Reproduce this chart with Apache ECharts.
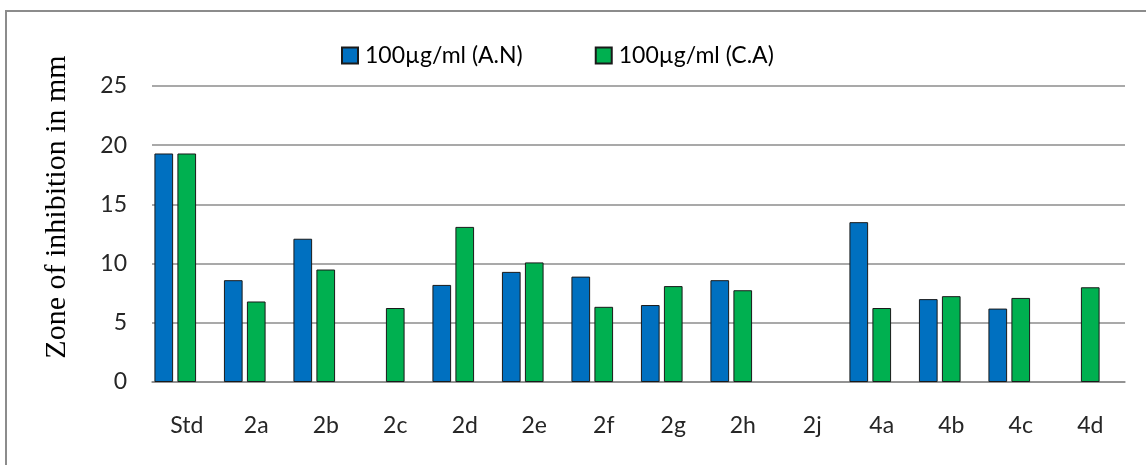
<!DOCTYPE html>
<html>
<head>
<meta charset="utf-8">
<script src="https://cdn.jsdelivr.net/npm/echarts@6/dist/echarts.min.js"></script>
<style>
html,body{margin:0;padding:0;background:#fff;}
#chart{width:1146px;height:465px;}
</style>
</head>
<body>
<div id="chart"></div>
<script>
var categories = ['Std','2a','2b','2c','2d','2e','2f','2g','2h','2j','4a','4b','4c','4d'];
var seriesNames = ['100µg/ml (A.N)', '100µg/ml (C.A)'];
var valuesAN = [19.3, 8.6, 12.1, null, 8.2, 9.3, 8.9, 6.5, 8.6, null, 13.5, 7.0, 6.2, null];
var valuesCA = [19.3, 6.8, 9.5, 6.25, 13.1, 10.1, 6.35, 8.1, 7.75, null, 6.25, 7.25, 7.1, 8.0];
var emptySeries = [null, null, null, null, null, null, null, null, null, null, null, null, null, null];
var yTicks = { min: 0, max: 25, interval: 5 };
var yTitle = 'Zone of inhibition in mm';

var chart = echarts.init(document.getElementById('chart'), null, {renderer: 'canvas'});
var sansFont = 'Lato';
var option = {
  backgroundColor: '#ffffff',
  animation: false,
  graphic: [
    {
      type: 'rect',
      shape: {x: 6, y: 11, width: 1160, height: 480},
      style: {fill: 'none', stroke: '#8c8c8c', lineWidth: 2},
      silent: true
    },
    {
      type: 'text',
      x: 57, y: 207,
      rotation: Math.PI / 2,
      style: {
        text: yTitle,
        font: '30px "Liberation Serif"',
        fill: '#000000',
        align: 'center',
        verticalAlign: 'middle'
      }
    }
  ],
  legend: {
    data: seriesNames,
    left: 341,
    top: 44,
    padding: 0,
    itemWidth: 16,
    itemHeight: 16,
    itemGap: 72,
    icon: 'rect',
    textStyle: {fontFamily: sansFont, fontSize: 23, color: '#000000', padding: [0,0,0,2]}
  },
  grid: {left: 152, right: 21, top: 86, bottom: 83, containLabel: false},
  xAxis: {
    type: 'category',
    data: categories,
    axisLine: {show: true, lineStyle: {color: '#8c8c8c', width: 1.5}},
    axisTick: {show: false},
    axisLabel: {fontFamily: sansFont, fontSize: 23, color: '#262626', margin: 32}
  },
  yAxis: {
    type: 'value',
    min: yTicks.min,
    max: yTicks.max,
    interval: yTicks.interval,
    axisLine: {show: false},
    axisTick: {show: false},
    splitLine: {show: true, lineStyle: {color: '#8c8c8c', width: 1.5}},
    axisLabel: {fontFamily: sansFont, fontSize: 23, color: '#262626', margin: 25}
  },
  series: [
    {
      name: seriesNames[0], type: 'bar', data: valuesAN,
      barCategoryGap: '7%', barGap: '23%',
      itemStyle: {color: '#0070C0', borderColor: '#1a1a1a', borderWidth: 1}
    },
    {
      name: seriesNames[1], type: 'bar', data: valuesCA,
      barCategoryGap: '7%', barGap: '23%',
      itemStyle: {color: '#00B050', borderColor: '#1a1a1a', borderWidth: 1}
    },
    {
      name: 'hidden', type: 'bar', data: emptySeries,
      barCategoryGap: '7%', barGap: '23%',
      itemStyle: {color: 'transparent'}
    }
  ]
};
chart.setOption(option);
</script>
</body>
</html>
